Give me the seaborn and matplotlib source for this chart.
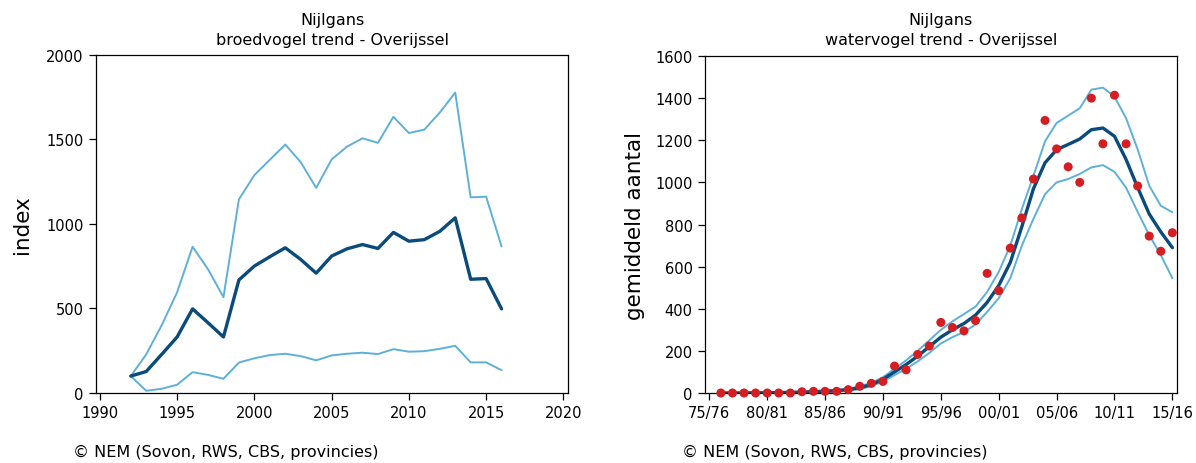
import numpy as np
import matplotlib
matplotlib.use("Agg")
import matplotlib.pyplot as plt
import pandas as pd
import seaborn as sns

# broedvogel trend (left panel)
years = [1992, 1993, 1994, 1995, 1996, 1997, 1998, 1999, 2000, 2001, 2002, 2003, 2004,
         2005, 2006, 2007, 2008, 2009, 2010, 2011, 2012, 2013, 2014, 2015, 2016]
index_mid = [100, 127, 228, 331, 497, 415, 331, 668, 750, 805, 858, 789, 708,
             809, 852, 877, 854, 949, 897, 906, 955, 1035, 672, 676, 497]
index_hi = [100, 228, 400, 595, 864, 731, 566, 1144, 1287, 1378, 1468, 1364, 1212,
            1380, 1456, 1505, 1478, 1632, 1536, 1556, 1657, 1775, 1156, 1160, 866]
index_lo = [100, 13, 25, 49, 123, 107, 84, 180, 205, 224, 232, 218, 193,
            222, 232, 238, 230, 259, 244, 247, 261, 279, 181, 181, 135]

# watervogel trend (right panel), seasons 76/77 .. 15/16 by start year
seasons = list(range(1976, 2016))
counts = [0, 0, 0, 0, 0, 0, 0, 6, 8, 8, 8, 16, 32, 46, 55, 128, 110, 183, 223, 335,
          311, 295, 344, 568, 486, 688, 831, 1016, 1294, 1159, 1074, 1000, 1400, 1183, 1414, 1183,
          983, 745, 673, 761]
trend = [0, 0, 0, 1, 1, 2, 3, 4, 6, 8, 11, 16, 25, 40, 65, 100, 135, 175, 220, 265,
         300, 330, 370, 430, 510, 620, 790, 970, 1093, 1155, 1180, 1206, 1250, 1258, 1219, 1109,
         976, 850, 765, 690]
trend_hi = [2, 2, 2, 3, 3, 4, 5, 6, 9, 12, 15, 20, 32, 48, 75, 115, 155, 200, 250, 300,
            340, 375, 410, 480, 575, 700, 874, 1031, 1195, 1282, 1317, 1352, 1440, 1450, 1407, 1305,
            1157, 984, 889, 858]
trend_lo = [0, 0, 0, 0, 0, 0, 1, 2, 4, 6, 8, 12, 18, 32, 55, 85, 115, 150, 190, 235,
            265, 290, 325, 385, 450, 545, 700, 827, 944, 1000, 1016, 1040, 1071, 1082, 1050, 975,
            860, 750, 655, 545]
season_ticks = [1975, 1980, 1985, 1990, 1995, 2000, 2005, 2010, 2015]
season_labels = ["75/76", "80/81", "85/86", "90/91", "95/96", "00/01", "05/06", "10/11", "15/16"]

dark = "#0b4b7b"
light = "#5fb0d8"
red = "#d51d22"

sns.set_style("ticks")
plt.rcParams["font.family"] = ["DejaVu Sans"]
plt.rcParams["text.color"] = "black"
plt.rcParams["axes.labelcolor"] = "black"
plt.rcParams["xtick.color"] = "black"
plt.rcParams["ytick.color"] = "black"
plt.rcParams["axes.linewidth"] = 0.9
plt.rcParams["xtick.major.width"] = 0.9
plt.rcParams["ytick.major.width"] = 0.9
plt.rcParams["xtick.major.size"] = 5
plt.rcParams["ytick.major.size"] = 5
plt.rcParams["xtick.major.pad"] = 4
plt.rcParams["ytick.major.pad"] = 4

fig = plt.figure(figsize=(11.96, 4.64), dpi=100)
ax1 = fig.add_axes([96 / 1196, 70 / 464, 472 / 1196, 338.5 / 464])
ax2 = fig.add_axes([705 / 1196, 70 / 464, 472 / 1196, 337 / 464])

# left: index with confidence lines
df1 = pd.DataFrame({"jaar": years, "mid": index_mid, "hi": index_hi, "lo": index_lo})
sns.lineplot(data=df1, x="jaar", y="hi", ax=ax1, color=light, lw=1.4)
sns.lineplot(data=df1, x="jaar", y="lo", ax=ax1, color=light, lw=1.4)
sns.lineplot(data=df1, x="jaar", y="mid", ax=ax1, color=dark, lw=2.4)
ax1.set_xlim(1989.75, 2020.3)
ax1.set_ylim(0, 2000)
ax1.set_xticks([1990, 1995, 2000, 2005, 2010, 2015, 2020])
ax1.set_yticks([0, 500, 1000, 1500, 2000])
ax1.set_xlabel("")
ax1.set_ylabel("index", fontsize=15.5)
ax1.yaxis.set_label_coords(-0.136, 0.5)

# right: counts + smoothed trend
df2 = pd.DataFrame({"seizoen": seasons, "aantal": counts, "trend": trend,
                    "hi": trend_hi, "lo": trend_lo})
sns.lineplot(data=df2, x="seizoen", y="hi", ax=ax2, color=light, lw=1.4)
sns.lineplot(data=df2, x="seizoen", y="lo", ax=ax2, color=light, lw=1.4)
sns.lineplot(data=df2, x="seizoen", y="trend", ax=ax2, color=dark, lw=2.4)
sns.scatterplot(data=df2, x="seizoen", y="aantal", ax=ax2, color=red, s=42,
                edgecolor="none", zorder=5, clip_on=False)
ax2.set_xlim(1974.63, 2015.4)
ax2.set_ylim(0, 1600)
ax2.set_xticks(season_ticks)
ax2.set_xticklabels(season_labels)
ax2.set_yticks(range(0, 1601, 200))
ax2.set_xlabel("")
ax2.set_ylabel("gemiddeld aantal", fontsize=15.5)
ax2.yaxis.set_label_coords(-0.127, 0.5)

titles = {ax1: "broedvogel trend - Overijssel", ax2: "watervogel trend - Overijssel"}
for ax in (ax1, ax2):
    ax.tick_params(labelsize=10.5)
    for sp in ax.spines.values():
        sp.set_visible(True)
        sp.set_color("black")
    cx = (ax.get_position().x0 + ax.get_position().x1) / 2
    fig.text(cx, 1 - 20 / 464, "Nijlgans", fontsize=11.5, ha="center", va="center")
    fig.text(cx, 1 - 41 / 464, titles[ax], fontsize=11.5, ha="center", va="center")
    fig.text(ax.get_position().x0 - 23 / 1196, 1 - 452 / 464,
             "\u00a9 NEM (Sovon, RWS, CBS, provincies)",
             fontsize=11.5, va="center", ha="left")

fig.savefig("out.png", dpi=100, facecolor="white")
